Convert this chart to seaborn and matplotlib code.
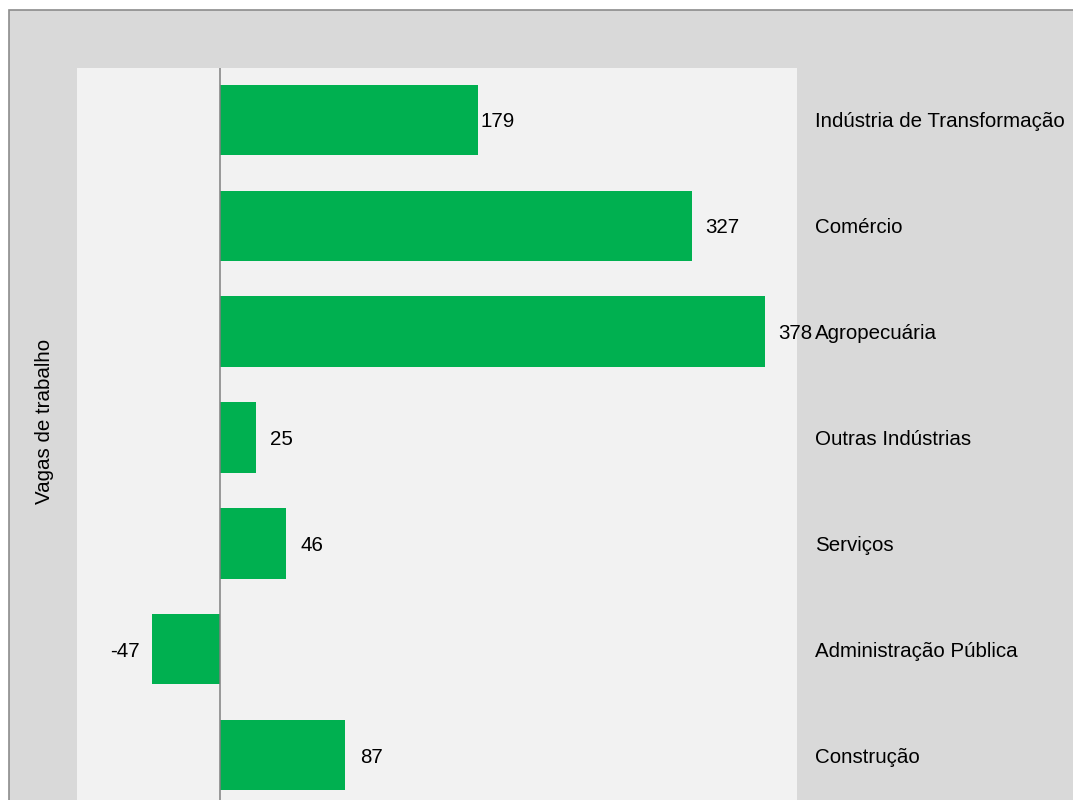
"""
Saldo de vagas de trabalho por setor -- horizontal bar chart.
"""

import matplotlib

matplotlib.use("Agg")

import matplotlib.pyplot as plt
import pandas as pd
import seaborn as sns
from matplotlib.patches import Rectangle
from matplotlib.transforms import offset_copy

sectors = [
    "Indústria de Transformação",
    "Comércio",
    "Agropecuária",
    "Outras Indústrias",
    "Serviços",
    "Administração Pública",
    "Construção",
]
vagas = [179, 327, 378, 25, 46, -47, 87]
# label offset from bar end, in points (the first one sits almost on the bar)
label_pad = [1.5, 10, 9.5, 10, 10, 9, 10.5]

BAR_GREEN = "#00b050"
OUTER_BG = "#d9d9d9"
PLOT_BG = "#f2f2f2"
FONT_SIZE = 14.8


def main():
    sns.set_style("white")
    plt.rcParams["font.family"] = ["Liberation Sans", "DejaVu Sans"]

    df = pd.DataFrame({"setor": sectors, "vagas": vagas})

    W, H = 1073, 800
    fig = plt.figure(figsize=(W / 100, H / 100), dpi=100)
    fig.patch.set_facecolor("white")

    # outer chart frame (gray area with a border on top/left)
    fig.patches.append(
        Rectangle(
            (9 / W, -0.1), 1.2, 1 - 10 / H + 0.1,
            transform=fig.transFigure, facecolor=OUTER_BG,
            edgecolor="#8c8c8c", linewidth=1.2, zorder=-10,
        )
    )

    ax = fig.add_axes([77 / W, 0, 720 / W, (H - 68) / H])
    ax.set_facecolor(PLOT_BG)

    sns.barplot(
        data=df, x="vagas", y="setor", orient="h",
        color=BAR_GREEN, saturation=1, width=0.665, linewidth=0, ax=ax,
    )

    ax.set_xlim(-99, 400)
    ax.set_ylim(6.425, -0.491)
    ax.axvline(0, color="#808080", linewidth=1.1, zorder=3)

    for s in ax.spines.values():
        s.set_visible(False)
    ax.set_xticks([])
    ax.set_xlabel("")
    ax.set_ylabel("")

    # category names outside the plot area, on the right
    ax.yaxis.tick_right()
    ax.tick_params(axis="y", length=0, pad=13, labelsize=FONT_SIZE, labelcolor="black")
    for lab in ax.get_yticklabels():
        lab.set_horizontalalignment("left")

    # value labels
    for i, (v, pad) in enumerate(zip(vagas, label_pad)):
        sign = 1 if v >= 0 else -1
        tr = offset_copy(ax.transData, fig=fig, x=sign * pad, y=0, units="points")
        ax.text(
            v, i, f"{v}", transform=tr, fontsize=FONT_SIZE,
            ha="left" if v >= 0 else "right", va="center_baseline", color="black",
        )

    fig.text(
        45 / W, 1 - 421 / H, "Vagas de trabalho", rotation=90,
        ha="center", va="center", fontsize=FONT_SIZE, color="black",
    )

    fig.savefig("out.png", dpi=100, facecolor=fig.get_facecolor())
    plt.close(fig)


if __name__ == "__main__":
    main()
